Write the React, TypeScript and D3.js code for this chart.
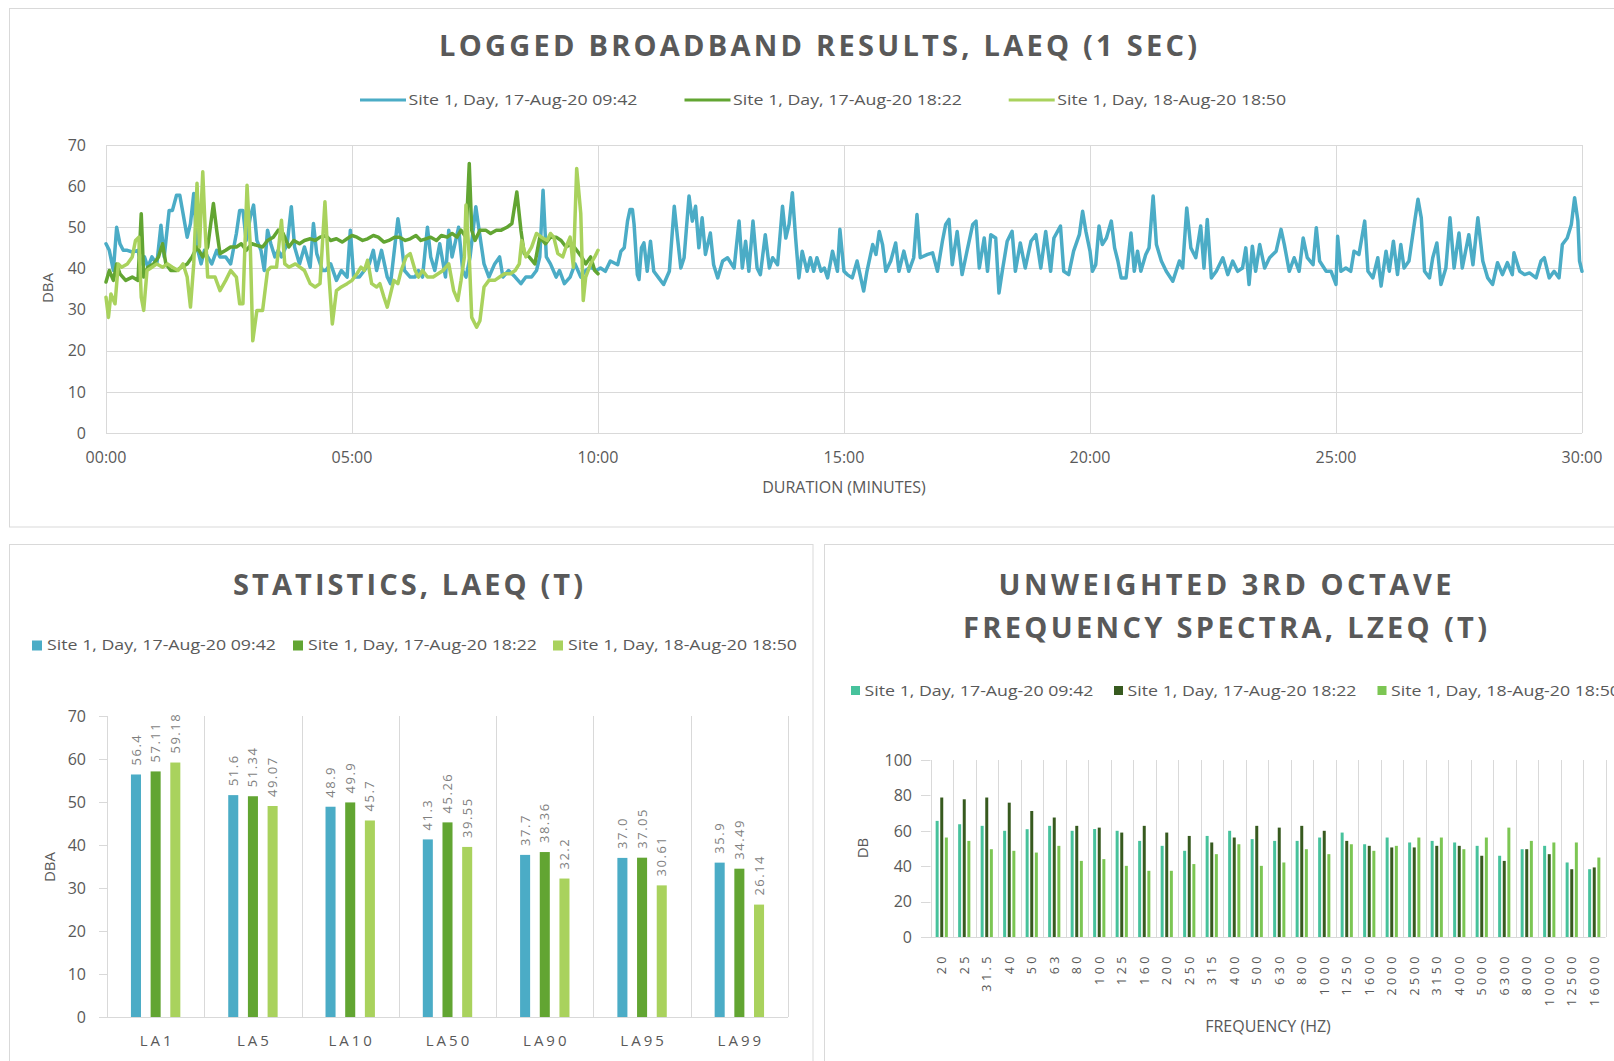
import React from 'react';
import * as d3 from 'd3';

// ---- data ----
const seriesNames = [
  'Site 1, Day, 17-Aug-20 09:42',
  'Site 1, Day, 17-Aug-20 18:22',
  'Site 1, Day, 18-Aug-20 18:50',
];

const timeTicks = [0, 300, 600, 900, 1200, 1500, 1800];
const timeTickLabels = ['00:00', '05:00', '10:00', '15:00', '20:00', '25:00', '30:00'];
const levelTicks = [0, 10, 20, 30, 40, 50, 60, 70];

// [seconds, dBA]
const site1Log = [
  [0,46],[4,44.4],[9,39.5],[13,50],[17,46],[21,44.4],[26,44.4],[32,44],[39,44.4],[43,41.1],[47,42.8],[51,40.3],[56,42.8],[62,41.1],[67,50.5],[71,42.8],[77,54.1],[81,54.1],[86,57.8],[90,57.8],[94,53.3],[99,47.6],[103,50.9],[107,58.2],[111,45.2],[116,41.1],[120,44.4],[124,42.8],[129,41.1],[135,44.4],[139,42.8],[146,42.8],[152,41.1],[159,48.5],[163,54.1],[167,54.1],[171,46.8],[176,52.5],[180,55.4],[184,46.8],[189,44.4],[193,39.5],[197,49.3],[201,46],[206,42.8],[210,44.4],[214,42.8],[221,46],[226,55],[230,45.2],[236,41.1],[242,45.2],[249,40.3],[253,50.9],[257,43.6],[264,39.5],[268,39.5],[274,41.1],[281,37.1],[287,39.5],[294,37.9],[298,49.3],[302,37.9],[309,37.9],[315,39.5],[321,41.1],[326,44.4],[330,39.5],[336,44.4],[343,37.9],[347,36.3],[356,52.1],[360,46.8],[364,39.5],[371,37.9],[377,37.9],[381,39.5],[386,37.9],[392,50],[396,42.8],[401,39.5],[407,46],[414,37.9],[418,49.3],[422,42.8],[430,50],[435,39.5],[439,37.9],[444,42.8],[451,55],[455,49.3],[461,41.1],[467,37.9],[474,41.1],[480,42.8],[484,37.9],[491,39.5],[499,37.9],[506,36.3],[512,37.9],[519,37.9],[525,39.5],[529,42.8],[533,59],[537,42.8],[542,41.1],[549,37.9],[553,39.5],[559,36.3],[566,37.9],[572,41.1],[579,37.9],[585,39.5],[591,40.3],[598,39.5],
  [603,40.1],[609,39.3],[615,41.8],[624,40.9],[628,44.2],[632,45],[636,51.5],[639,54.3],[642,54.3],[644,50.7],[648,38.5],[650,37.3],[653,45],[656,46.2],[660,39.3],[664,46.6],[668,39.3],[674,37.7],[680,36.1],[687,39.3],[693,55.1],[697,47.4],[701,40.1],[705,42.6],[711,57.6],[715,51.5],[719,55.1],[723,45],[727,52.3],[731,43.4],[737,48.6],[741,40.9],[746,37.7],[752,41.8],[758,42.6],[766,40.1],[772,51.5],[776,40.1],[780,46.6],[784,39.3],[789,51.5],[794,40.1],[798,38.5],[804,48.2],[809,40.1],[813,42.6],[819,40.9],[825,55.1],[829,47.4],[833,50.7],[837,58.4],[841,47.4],[845,37.7],[849,44.2],[855,39.3],[859,42.6],[863,39.3],[867,42.6],[872,39.3],[876,40.1],[880,37.7],[886,44.2],[892,39.3],[895,49.5],[900,39.3],
  [904,38.5],[910,37.7],[916,41.8],[924,34.5],[928,39.3],[935,45.8],[939,43.4],[943,49],[947,45.8],[951,39.3],[957,41.8],[963,46.2],[967,39.3],[973,44.2],[979,39.3],[985,42.6],[989,53.1],[993,42.6],[1002,43.4],[1008,43.8],[1014,39.3],[1020,46.6],[1024,50.7],[1028,51.9],[1032,40.9],[1038,49],[1044,38.5],[1050,44.2],[1057,50.7],[1061,51.5],[1065,40.1],[1071,47.4],[1075,39.3],[1079,48.2],[1085,47.4],[1089,34],[1093,39.3],[1099,46.6],[1105,49],[1109,39.3],[1115,46.2],[1121,40.1],[1128,46.6],[1134,48.2],[1140,40.1],[1146,49],[1152,39.3],[1156,47.4],[1164,50.3],[1168,39.3],[1174,38.5],[1180,44.2],[1187,48.2],[1191,53.9],[1195,49],
  [1200,44.2],[1203,39.3],[1207,40.9],[1211,50.3],[1215,45.8],[1220,47.4],[1226,51.5],[1230,45],[1234,41.8],[1238,37.7],[1244,37.7],[1250,48.6],[1254,39.3],[1258,44.2],[1262,39.3],[1268,43.4],[1272,45],[1277,57.6],[1281,45.8],[1287,41.8],[1293,39.3],[1301,36.9],[1309,41.8],[1313,40.1],[1318,54.7],[1323,45],[1329,42.6],[1335,50.3],[1339,40.1],[1343,51.9],[1348,37.7],[1354,39.3],[1362,42.6],[1368,38.5],[1374,41.8],[1380,39.3],[1386,40.1],[1390,45],[1394,36.1],[1398,45.4],[1402,39.3],[1407,45.8],[1413,40.1],[1419,42.6],[1427,44.2],[1433,49.5],[1437,45.8],[1443,39.3],[1449,42.6],[1455,39.3],[1460,47.4],[1465,42.6],[1472,40.9],[1476,49.9],[1480,41.8],[1488,39.3],[1494,39.3],[1500,36.1],
  [1502,47.8],[1506,39.3],[1512,40.1],[1518,39.3],[1522,44.2],[1528,43.4],[1535,51.5],[1539,39.3],[1545,37.7],[1551,42.6],[1555,35.7],[1561,44.2],[1565,39.3],[1570,46.6],[1575,38.5],[1579,45.8],[1583,40.1],[1589,41.8],[1596,51.5],[1600,56.8],[1604,52.3],[1608,39.3],[1614,37.7],[1618,42.6],[1623,46.2],[1628,36.1],[1634,40.1],[1639,52.3],[1644,40.1],[1650,48.6],[1654,40.1],[1662,48.2],[1667,40.9],[1673,52.3],[1679,41.8],[1685,37.7],[1691,36.1],[1697,41.4],[1703,38.5],[1709,41.4],[1715,38.5],[1717,43.8],[1724,39.3],[1730,38.5],[1736,38.9],[1744,37.7],[1750,41.8],[1754,42.6],[1760,37.7],[1766,39.3],[1772,37.7],[1776,45.8],[1782,47.4],[1787,50.7],[1791,57.2],[1795,51.5],[1797,41.8],[1800,39.3],
];

const site2Log = [
  [0,36.7],[4,39.5],[9,37.1],[13,41.1],[17,38.7],[24,37.1],[32,37.9],[39,37.1],[43,53.3],[46,37.9],[51,40.3],[58,41.1],[64,42.8],[69,46],[73,41.1],[79,39.5],[86,39.5],[92,40.3],[99,41.1],[105,42.8],[111,45.2],[118,42.8],[124,45.2],[131,55.8],[135,49.3],[139,43.6],[146,44.4],[152,45.2],[159,45.2],[165,46],[171,44.4],[178,46],[184,45.6],[191,45.2],[197,46.8],[204,47.6],[210,49.3],[216,48.5],[223,45.2],[229,46.8],[236,46],[242,46.8],[249,47.2],[255,46.8],[261,47.6],[268,48],[274,46.8],[281,47.2],[288,46.4],[294,47.2],[300,48],[306,47.6],[313,46.8],[319,47.2],[326,48],[332,47.6],[339,46.4],[345,46.8],[352,47.6],[358,47.6],[365,46.8],[371,47.2],[378,48],[384,46.8],[390,47.2],[396,47.6],[403,46.8],[409,48],[416,47.6],[422,48.5],[428,47.6],[433,49.3],[439,47.6],[443,65.5],[446,49.3],[450,46.8],[456,49.3],[463,49.3],[469,48.5],[476,49.3],[482,49.3],[489,50],[495,50.9],[501,58.6],[506,49.3],[510,43.6],[516,42.8],[523,41.1],[529,47.6],[536,46],[542,47.6],[549,47.6],[555,46.8],[561,45.2],[568,46],[574,44.4],[580,42.8],[585,41.1],[591,42.8],[596,39.5],[600,38.7],
];

const site3Log = [
  [0,33],[3,28.1],[6,33.8],[11,31.4],[15,41.1],[19,40.3],[26,41.1],[32,42.8],[36,46.8],[40,47.6],[43,33],[46,29.8],[50,39.5],[56,40.3],[62,41.1],[69,40.3],[75,41.1],[81,40.3],[88,39.5],[94,41.1],[99,37.9],[103,30.6],[107,41.1],[111,60.7],[114,45.2],[118,63.5],[121,49.3],[124,37.9],[133,37.9],[139,34.6],[146,37.1],[152,39.5],[159,37.9],[163,31.4],[167,31.4],[172,60.2],[176,45.2],[179,22.4],[184,29.8],[191,29.8],[197,39.5],[201,40.3],[208,40.3],[214,51.7],[218,41.1],[223,40.3],[231,41.1],[242,39.5],[249,36.3],[255,35.5],[261,36.3],[267,56.2],[272,37.9],[276,26.5],[281,34.6],[287,35.5],[294,36.3],[300,37.1],[306,38.7],[311,40.3],[315,39.5],[319,42],[324,36.3],[330,35.5],[334,36.3],[339,33],[343,30.6],[347,33.8],[351,37.1],[356,36.3],[360,39.5],[366,42.8],[371,43.6],[377,39.5],[381,37.9],[386,39.5],[392,37.9],[399,37.9],[405,38.7],[411,39.5],[418,41.1],[424,34.6],[429,32.2],[433,37.1],[437,42.8],[439,55.4],[443,42.8],[446,28.1],[452,25.7],[456,27.3],[461,35.5],[467,37.1],[474,37.1],[480,37.9],[486,38.7],[493,38.7],[499,39.5],[504,41.1],[507,46.8],[512,42.8],[519,45.2],[525,48.5],[531,47.6],[538,46.8],[542,48.5],[546,47.6],[551,43.6],[557,42.8],[561,45.2],[566,47.6],[570,40.3],[574,64.3],[579,53.3],[582,32.2],[585,37.9],[591,41.1],[596,42.8],[600,44.4],
];

const statCategories = ['LA1', 'LA5', 'LA10', 'LA50', 'LA90', 'LA95', 'LA99'];
const statSite1 = [56.4, 51.6, 48.9, 41.3, 37.7, 37.0, 35.9];
const statSite2 = [57.11, 51.34, 49.9, 45.26, 38.36, 37.05, 34.49];
const statSite3 = [59.18, 49.07, 45.7, 39.55, 32.2, 30.61, 26.14];
const statLabels1 = ['56.4', '51.6', '48.9', '41.3', '37.7', '37.0', '35.9'];

const freqBands = ['20','25','31.5','40','50','63','80','100','125','160','200','250','315','400','500','630','800','1000','1250','1600','2000','2500','3150','4000','5000','6300','8000','10000','12500','16000'];
const freqSite1 = [65.6,63.7,62.8,60,60.9,62.8,60,61,60,54.3,51.5,48.7,57.1,60,55.3,54.3,54.3,56.2,59,52.4,56.2,53.4,54.3,53.4,51.5,45.9,49.6,51.5,42.1,38.3];
const freqSite2 = [78.8,77.8,78.8,75.9,71.2,67.5,62.8,61.8,59,62.8,59,57.1,53.4,56.2,62.8,61.8,62.8,60,54.3,51.5,50.6,50.6,51.5,51.5,45.9,43,49.6,46.8,38.3,39.3];
const freqSite3 = [56.2,54.3,49.6,48.7,47.7,51.5,43,44,40.2,37.4,37.4,41.2,46.8,52.4,40.2,42.1,49.6,46.8,52.4,48.7,51.5,56.2,56.2,49.6,56.2,61.8,54.3,53.4,53.4,44.9];
const freqTicks = [0, 20, 40, 60, 80, 100];

// ---- styles ----
const FONT = "'Open Sans', 'DejaVu Sans', sans-serif";
const TEXT = '#595959';
const GRID = '#d9d9d9';
const lineColors = ['#4bacc6', '#62a532', '#a9d25d'];
const freqColors = ['#47c29c', '#375a1f', '#7cc653'];

const mid = (cy: number, fs: number) => cy + fs * 0.357;

function Title({ x, y, text, width }: { x: number; y: number; text: string; width: number }) {
  return (
    <text x={x} y={mid(y, 29)} textAnchor="middle" fontFamily={FONT} fontWeight={700} fontSize={29}
      fill={TEXT} textLength={width} lengthAdjust="spacing">{text}</text>
  );
}

function LegendLabel({ x, y, text }: { x: number; y: number; text: string }) {
  return (
    <text x={x} y={mid(y, 15)} fontFamily={FONT} fontSize={15} fill={TEXT}
      textLength={229} lengthAdjust="spacingAndGlyphs">{text}</text>
  );
}

export default function App() {
  // logged broadband
  const x = d3.scaleLinear().domain([0, 1800]).range([106, 1582]);
  const y = d3.scaleLinear().domain([0, 70]).range([433, 145]);
  const line = d3.line<number[]>().x(d => x(d[0])).y(d => y(d[1]));
  const logs = [site1Log, site2Log, site3Log];

  // statistics
  const sx = d3.scaleBand().domain(statCategories).range([107, 788]);
  const sInner = d3.scaleBand().domain(['0', '1', '2']).range([-24.7, 24.7]).paddingInner(0.49);
  const sy = d3.scaleLinear().domain([0, 70]).range([1017, 716]);
  const stats = [statSite1, statSite2, statSite3];
  const statText = [statLabels1, statSite2.map(String), statSite3.map(String)];

  // spectra
  const fx = d3.scaleBand().domain(freqBands).range([930.5, 1605.5]);
  const fInner = d3.scaleBand().domain(['0', '1', '2']).range([-6.1, 6.1]).paddingInner(0.35);
  const fy = d3.scaleLinear().domain([0, 100]).range([937, 760]);
  const freqs = [freqSite1, freqSite2, freqSite3];

  const topLegendX = [360, 684.5, 1008.7];
  const statLegendX = [32, 293, 553];
  const freqLegendX = [851, 1114, 1377.5];

  return (
    <svg width={1614} height={1061} style={{ position: 'absolute', left: 0, top: 0, display: 'block', background: '#fff' }}>
      {/* panels */}
      <rect x={9.5} y={8.5} width={1620} height={518.5} fill="#fff" stroke={GRID} />
      <rect x={9.5} y={544.5} width={803.5} height={530} fill="#fff" stroke={GRID} />
      <rect x={824.5} y={544.5} width={800} height={530} fill="#fff" stroke={GRID} />

      {/* ===== logged broadband ===== */}
      <Title x={818} y={46} text="LOGGED BROADBAND RESULTS, LAEQ (1 SEC)" width={758} />
      {seriesNames.map((n, i) => (
        <g key={n}>
          <line x1={topLegendX[i]} x2={topLegendX[i] + 46} y1={100} y2={100} stroke={lineColors[i]} strokeWidth={3} />
          <LegendLabel x={topLegendX[i] + 48.5} y={100} text={n} />
        </g>
      ))}
      {levelTicks.map(t => (
        <g key={'ly' + t}>
          <line x1={x(0)} x2={x(1800)} y1={Math.round(y(t)) + 0.5} y2={Math.round(y(t)) + 0.5} stroke={GRID} />
          <text x={86} y={mid(y(t), 16)} textAnchor="end" fontFamily={FONT} fontSize={16} fill={TEXT}>{t}</text>
        </g>
      ))}
      {timeTicks.map((t, i) => (
        <g key={'lx' + t}>
          <line x1={Math.round(x(t)) + 0.5} x2={Math.round(x(t)) + 0.5} y1={y(70)} y2={y(0)} stroke={GRID} />
          <text x={x(t)} y={mid(457, 16)} textAnchor="middle" fontFamily={FONT} fontSize={16} fill={TEXT}>{timeTickLabels[i]}</text>
        </g>
      ))}
      <text x={844} y={mid(487, 16)} textAnchor="middle" fontFamily={FONT} fontSize={16} fill={TEXT}>DURATION (MINUTES)</text>
      <text transform="translate(48,288) rotate(-90)" dy="0.35em" textAnchor="middle" fontFamily={FONT} fontSize={15} fill={TEXT}>DBA</text>
      {logs.map((s, i) => (
        <path key={'log' + i} d={line(s) || ''} fill="none" stroke={lineColors[i]} strokeWidth={3.5}
          strokeLinejoin="round" strokeLinecap="round" />
      ))}

      {/* ===== statistics ===== */}
      <Title x={408} y={585} text="STATISTICS, LAEQ (T)" width={350} />
      {seriesNames.map((n, i) => (
        <g key={'sl' + i}>
          <rect x={statLegendX[i]} y={640.5} width={10} height={10} fill={lineColors[i]} />
          <LegendLabel x={statLegendX[i] + 15} y={645} text={n} />
        </g>
      ))}
      {[...statCategories.map(c => sx(c) as number), 788].map((bx, i) => (
        <line key={'sg' + i} x1={Math.round(bx) + 0.5} x2={Math.round(bx) + 0.5} y1={716} y2={1017} stroke={GRID} />
      ))}
      {levelTicks.map(t => (
        <g key={'sy' + t}>
          <line x1={99} x2={107} y1={Math.round(sy(t)) + 0.5} y2={Math.round(sy(t)) + 0.5} stroke={GRID} />
          <text x={86} y={mid(sy(t), 16)} textAnchor="end" fontFamily={FONT} fontSize={16} fill={TEXT}>{t}</text>
        </g>
      ))}
      <line x1={99} x2={788} y1={1017.5} y2={1017.5} stroke={GRID} />
      <text transform="translate(50,867) rotate(-90)" dy="0.35em" textAnchor="middle" fontFamily={FONT} fontSize={15} fill={TEXT}>DBA</text>
      {statCategories.map((c, ci) => {
        const cx = (sx(c) as number) + sx.bandwidth() / 2;
        return (
          <g key={c}>
            {stats.map((s, si) => {
              const bx = cx + (sInner(String(si)) as number);
              const bw = sInner.bandwidth();
              return (
                <g key={si}>
                  <rect x={bx} y={sy(s[ci])} width={bw} height={sy(0) - sy(s[ci])} fill={lineColors[si]} />
                  <text transform={`translate(${bx + bw / 2},${sy(s[ci]) - 9}) rotate(-90)`} dy="0.35em"
                    fontFamily={FONT} fontSize={13} letterSpacing={1.5} fill="#7f7f7f">{statText[si][ci]}</text>
                </g>
              );
            })}
            <text x={cx + 1.5} y={mid(1041, 15)} textAnchor="middle" fontFamily={FONT} fontSize={15}
              letterSpacing={3} fill={TEXT}>{c}</text>
          </g>
        );
      })}

      {/* ===== spectra ===== */}
      <Title x={1225} y={585} text="UNWEIGHTED 3RD OCTAVE" width={453} />
      <Title x={1225} y={628} text="FREQUENCY SPECTRA, LZEQ (T)" width={524} />
      {seriesNames.map((n, i) => (
        <g key={'fl' + i}>
          <rect x={freqLegendX[i]} y={686} width={9} height={9} fill={freqColors[i]} />
          <LegendLabel x={freqLegendX[i] + 13.5} y={690.5} text={n} />
        </g>
      ))}
      {[...freqBands.map(c => fx(c) as number), 1605.5].map((bx, i) => (
        <line key={'fg' + i} x1={Math.round(bx) + 0.5} x2={Math.round(bx) + 0.5} y1={760} y2={937} stroke={GRID} />
      ))}
      {freqTicks.map(t => (
        <g key={'fy' + t}>
          <line x1={921} x2={930.5} y1={Math.round(fy(t)) + 0.5} y2={Math.round(fy(t)) + 0.5} stroke={GRID} />
          <text x={912} y={mid(fy(t), 16)} textAnchor="end" fontFamily={FONT} fontSize={16} fill={TEXT}>{t}</text>
        </g>
      ))}
      <line x1={921} x2={1605.5} y1={937.5} y2={937.5} stroke={GRID} />
      <text transform="translate(863,848) rotate(-90)" dy="0.35em" textAnchor="middle" fontFamily={FONT} fontSize={15} fill={TEXT}>DB</text>
      {freqBands.map((c, ci) => {
        const cx = (fx(c) as number) + fx.bandwidth() / 2;
        return (
          <g key={'f' + c}>
            {freqs.map((s, si) => (
              <rect key={si} x={cx + (fInner(String(si)) as number)} y={fy(s[ci])} width={fInner.bandwidth()}
                height={fy(0) - fy(s[ci])} fill={freqColors[si]} />
            ))}
            <text transform={`translate(${cx},953) rotate(-90)`} dy="0.35em" textAnchor="end" fontFamily={FONT}
              fontSize={12.5} letterSpacing={3.5} fill={TEXT}>{c}</text>
          </g>
        );
      })}
      <text x={1268} y={mid(1026, 16)} textAnchor="middle" fontFamily={FONT} fontSize={16} fill={TEXT}>FREQUENCY (HZ)</text>
    </svg>
  );
}
